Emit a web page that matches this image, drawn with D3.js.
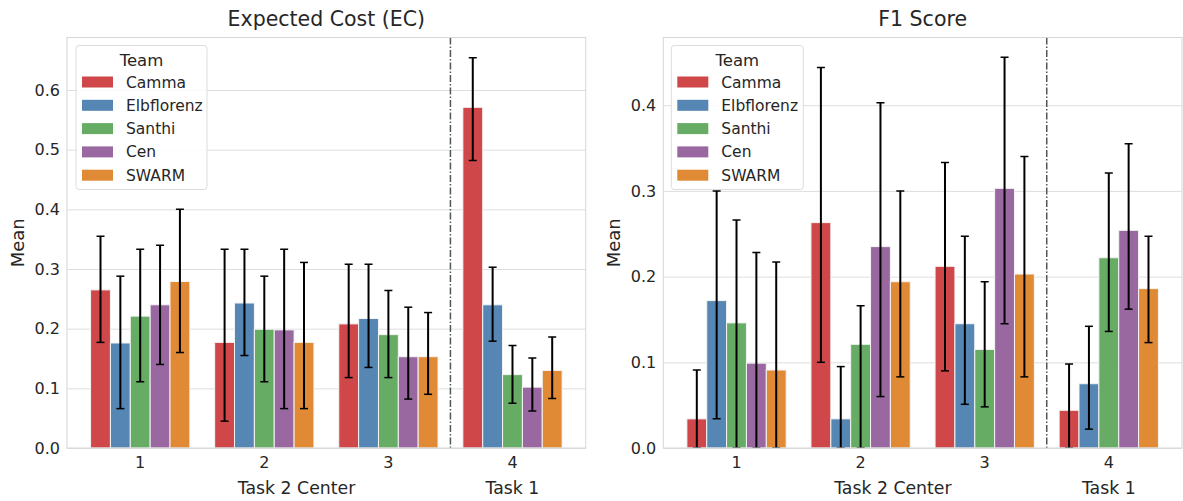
<!DOCTYPE html>
<html>
<head>
<meta charset="utf-8">
<script src="https://cdn.jsdelivr.net/npm/d3@7"></script>
<style>
  body { margin: 0; background: #fff; }
  text { font-family: "DejaVu Sans", sans-serif; fill: #262626; }
</style>
</head>
<body>
<div id="chart"></div>
<script>
// values
var teams = ["Camma", "Elbflorenz", "Santhi", "Cen", "SWARM"];
var centers = ["1", "2", "3", "4"];
var colors = ["#d0474a", "#5686b3", "#66ac65", "#9a68a0", "#e18a35"];

// Expected Cost: mean, lower, upper per center (rows) and team (cols)
var ecMean = [
    [0.265, 0.176, 0.221, 0.240, 0.279],
    [0.177, 0.243, 0.199, 0.198, 0.177],
    [0.208, 0.217, 0.190, 0.153, 0.153],
    [0.571, 0.240, 0.123, 0.102, 0.130]
];
var ecLow = [
    [0.177, 0.066, 0.111, 0.140, 0.160],
    [0.045, 0.155, 0.111, 0.066, 0.066],
    [0.118, 0.135, 0.118, 0.082, 0.090],
    [0.482, 0.179, 0.075, 0.062, 0.083]
];
var ecHigh = [
    [0.355, 0.288, 0.333, 0.340, 0.400],
    [0.333, 0.333, 0.288, 0.333, 0.311],
    [0.308, 0.308, 0.264, 0.236, 0.227],
    [0.654, 0.303, 0.172, 0.151, 0.186]
];

// F1 Score
var f1Mean = [
    [0.034, 0.172, 0.146, 0.099, 0.091],
    [0.263, 0.034, 0.121, 0.235, 0.194],
    [0.212, 0.145, 0.115, 0.303, 0.203],
    [0.044, 0.075, 0.222, 0.254, 0.186]
];
var f1Low = [
    [0.000, 0.034, 0.000, 0.000, 0.000],
    [0.100, 0.000, 0.000, 0.060, 0.083],
    [0.090, 0.051, 0.048, 0.145, 0.083],
    [0.000, 0.022, 0.136, 0.162, 0.123]
];
var f1High = [
    [0.091, 0.300, 0.266, 0.228, 0.217],
    [0.444, 0.095, 0.166, 0.403, 0.300],
    [0.333, 0.247, 0.194, 0.456, 0.340],
    [0.098, 0.142, 0.321, 0.355, 0.247]
];

var ecTicks = [0, 0.1, 0.2, 0.3, 0.4, 0.5, 0.6];
var f1Ticks = [0, 0.1, 0.2, 0.3, 0.4];

var svgWidth = 1183;
var svgHeight = 501;

var svg = d3.select("#chart")
    .append("svg")
    .attr("width", svgWidth)
    .attr("height", svgHeight);

function drawPanel(opts) {
    var left = opts.left, right = opts.right, top = 37.5, bottom = 448;
    var width = right - left, height = bottom - top;

    var g = svg.append("g").attr("transform", `translate(${left}, ${top})`);

    var x = d3.scaleLinear().domain([-0.59, 3.59]).range([0, width]);
    var y = d3.scaleLinear().domain([0, opts.ymax]).range([height, 0]);

    g.append("clipPath").attr("id", opts.id)
        .append("rect").attr("width", width).attr("height", height);

    // grid
    var yAxis = d3.axisLeft(y).tickValues(opts.ticks).tickFormat(d3.format(".1f"))
        .tickSize(-width).tickPadding(7);
    var ya = g.append("g").call(yAxis);
    ya.select(".domain").remove();
    ya.selectAll("line").attr("stroke", "#dedede").attr("stroke-width", 1);
    ya.selectAll("text").attr("font-size", "16px").attr("fill", "#262626");

    // bars
    var bw = 0.16;
    var plot = g.append("g").attr("clip-path", `url(#${opts.id})`);
    opts.mean.forEach((row, i) => {
        row.forEach((v, j) => {
            var xc = i + (j - 2) * bw;
            plot.append("rect")
                .attr("x", x(xc - bw / 2))
                .attr("width", x(bw) - x(0))
                .attr("y", y(v))
                .attr("height", y(0) - y(v))
                .attr("fill", colors[j])
                .attr("stroke", "#f4f4f4")
                .attr("stroke-width", 1);
        });
    });
    // error bars
    opts.mean.forEach((row, i) => {
        row.forEach((v, j) => {
            var xc = x(i + (j - 2) * bw);
            var lo = y(opts.low[i][j]), hi = y(opts.high[i][j]);
            plot.append("line").attr("x1", xc).attr("x2", xc)
                .attr("y1", lo).attr("y2", hi)
                .attr("stroke", "#000").attr("stroke-width", 2);
            [lo, hi].forEach(py => {
                plot.append("line").attr("x1", xc - 4).attr("x2", xc + 4)
                    .attr("y1", py).attr("y2", py)
                    .attr("stroke", "#000").attr("stroke-width", 1.5);
            });
        });
    });

    // separator between task 2 and task 1
    g.append("line")
        .attr("x1", x(2.5)).attr("x2", x(2.5))
        .attr("y1", 0).attr("y2", height)
        .attr("stroke", "#555")
        .attr("stroke-width", 1.5)
        .attr("stroke-dasharray", "7,2,1.5,2");

    // frame
    g.append("rect")
        .attr("width", width).attr("height", height)
        .attr("fill", "none").attr("stroke", "#d6d6d6").attr("stroke-width", 1);

    // x tick labels
    centers.forEach((c, i) => {
        g.append("text")
            .attr("x", x(i)).attr("y", height + 20)
            .attr("text-anchor", "middle")
            .attr("font-size", "16px")
            .text(c);
    });

    g.append("text")
        .attr("x", x(1.26)).attr("y", height + 46)
        .attr("text-anchor", "middle")
        .attr("font-size", "17.3px")
        .text("Task 2 Center");
    g.append("text")
        .attr("x", x(3)).attr("y", height + 46)
        .attr("text-anchor", "middle")
        .attr("font-size", "17.3px")
        .text("Task 1");

    g.append("text")
        .attr("transform", `translate(${opts.ylabX - left}, ${height / 2}) rotate(-90)`)
        .attr("text-anchor", "middle")
        .attr("font-size", "18px")
        .text("Mean");

    g.append("text")
        .attr("x", width / 2).attr("y", -12)
        .attr("text-anchor", "middle")
        .attr("font-size", "20.5px")
        .text(opts.title);

    // legend
    var lg = g.append("g").attr("transform", `translate(${opts.legX}, 8)`);
    lg.append("rect")
        .attr("width", opts.legW).attr("height", 144)
        .attr("rx", 3)
        .attr("fill", "#fff").attr("fill-opacity", 0.85)
        .attr("stroke", "#dcdcdc");
    lg.append("text")
        .attr("x", opts.legW / 2).attr("y", 20)
        .attr("text-anchor", "middle")
        .attr("font-size", "16.5px")
        .text("Team");
    teams.forEach((t, j) => {
        var cy = 36.5 + j * 23.3;
        lg.append("rect")
            .attr("x", 6).attr("y", cy - 5.5)
            .attr("width", 31).attr("height", 11)
            .attr("fill", colors[j]);
        lg.append("text")
            .attr("x", 50).attr("y", cy + 5.5)
            .attr("font-size", "15.5px")
            .text(t);
    });
}

drawPanel({
    id: "clipEC", left: 67, right: 585.7, ymax: 0.688, ticks: ecTicks,
    mean: ecMean, low: ecLow, high: ecHigh,
    title: "Expected Cost (EC)", ylabX: 24, legX: 9, legW: 131
});

drawPanel({
    id: "clipF1", left: 663.3, right: 1182, ymax: 0.479, ticks: f1Ticks,
    mean: f1Mean, low: f1Low, high: f1High,
    title: "F1 Score", ylabX: 620, legX: 8, legW: 132
});
</script>
</body>
</html>
